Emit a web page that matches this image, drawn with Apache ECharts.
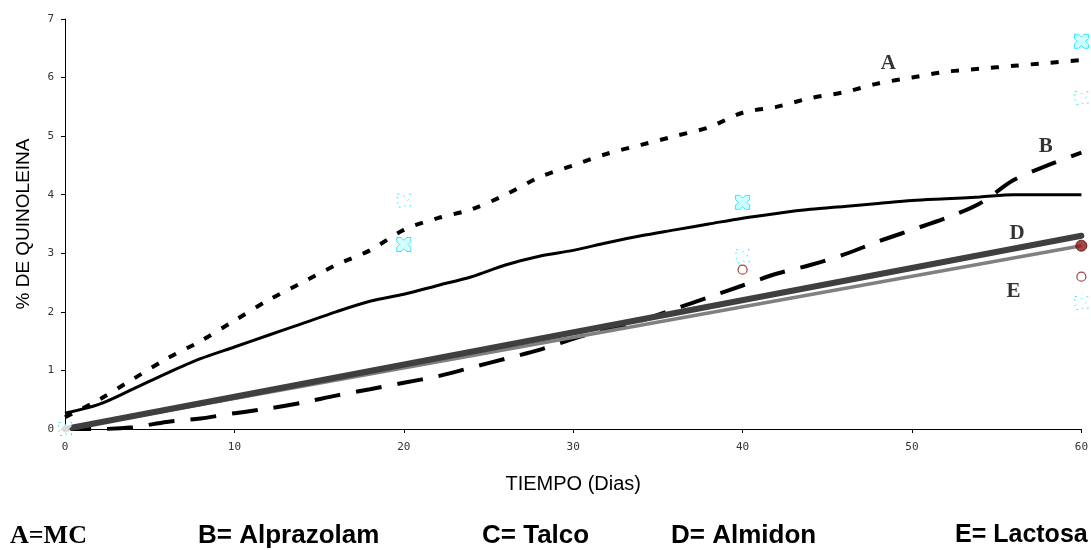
<!DOCTYPE html>
<html><head><meta charset="utf-8">
<script src="https://cdn.jsdelivr.net/npm/echarts@6/dist/echarts.min.js"></script>
<style>html,body{margin:0;padding:0;background:#fff}#c{width:1091px;height:550px}</style>
</head><body><div id="c"></div>
<script>
// ---- data ----
const days = [0,2,4,6,8,10,12,14,16,18,20,22,24,26,28,30,32,34,36,38,40,42,44,46,48,50,52,54,56,58,60];
const serieA = [0.2,0.5,0.85,1.2,1.5,1.85,2.2,2.5,2.8,3.05,3.4,3.6,3.75,4.0,4.3,4.5,4.7,4.85,5.0,5.15,5.4,5.5,5.65,5.75,5.9,6.0,6.1,6.15,6.2,6.25,6.3];
const serieB = [0,0,0.03,0.12,0.18,0.27,0.35,0.45,0.57,0.68,0.79,0.9,1.05,1.2,1.35,1.54,1.7,1.85,2.05,2.25,2.45,2.65,2.8,2.98,3.2,3.4,3.6,3.85,4.25,4.5,4.72];
const serieC = [0.27,0.42,0.68,0.95,1.2,1.4,1.6,1.8,2.0,2.18,2.3,2.45,2.6,2.8,2.95,3.05,3.18,3.3,3.4,3.5,3.6,3.68,3.75,3.8,3.85,3.9,3.93,3.96,4.0,4.0,4.0];
const daysDE = [0,60];
const serieD = [0,3.3];
const serieE = [0,3.13];
const cyanFilled = [[20,3.15],[40,3.87],[60,6.62]];
const cyanHollow = [[0,0],[20,3.9],[40,2.95],[60,5.65],[60,2.15]];
const redFilled = [[60,3.13]];
const redHollow = [[40,2.72],[60,2.6]];
const curveLabels = ['A','B','D','E'];
const curveLabelX = [48.6,57.9,56.2,56.0];
const curveLabelY = [6.24,4.83,3.33,2.35];
const xTitle = 'TIEMPO (Dias)';
const yTitle = '% DE QUINOLEINA';
const legendItems = ['A=MC','B= Alprazolam','C= Talco','D= Almidon','E= Lactosa'];
const xMin = 0, xMax = 60, xStep = 10;
const yMin = 0, yMax = 7, yStep = 1;

const zip = (xs, ys) => xs.map((x, i) => [x, ys[i]]);
const xSymbol = 'path://M0,0 L3,0 L5,2 L7,0 L10,0 L10,3 L8,5 L10,7 L10,10 L7,10 L5,8 L3,10 L0,10 L0,7 L2,5 L0,3 Z';

const chart = echarts.init(document.getElementById('c'), null, {renderer: 'canvas'});
const tickFont = {fontFamily: 'DejaVu Sans Mono', fontSize: 11, color: '#333'};
const option = {
  animation: false,
  backgroundColor: '#fff',
  grid: {left: 65, right: 9, top: 19, bottom: 121, containLabel: false},
  xAxis: {
    type: 'value', min: xMin, max: xMax, interval: xStep,
    name: xTitle, nameLocation: 'middle', nameGap: 45,
    nameTextStyle: {fontFamily: 'Liberation Sans', fontSize: 20, color: '#000'},
    axisLine: {lineStyle: {color: '#000', width: 1}},
    axisTick: {show: true, length: 4, lineStyle: {color: '#000'}},
    axisLabel: Object.assign({margin: 13}, tickFont),
    splitLine: {show: false}
  },
  yAxis: {
    type: 'value', min: yMin, max: yMax, interval: yStep,
    name: yTitle, nameLocation: 'middle', nameGap: 32, nameRotate: 90,
    nameTextStyle: {fontFamily: 'Liberation Sans', fontSize: 19, color: '#000'},
    axisLine: {show: true, lineStyle: {color: '#000', width: 1}},
    axisTick: {show: true, length: 4, lineStyle: {color: '#000'}},
    axisLabel: Object.assign({margin: 11}, tickFont),
    splitLine: {show: false}
  },
  series: [
    {name: 'B', type: 'line', data: zip(days, serieB), smooth: 0.3, showSymbol: false, z: 2,
      lineStyle: {color: '#000', width: 4, type: [26, 16]}},
    {name: 'E', type: 'line', data: zip(daysDE, serieE), showSymbol: false, z: 3,
      lineStyle: {color: '#808080', width: 3.5}},
    {name: 'D', type: 'line', data: zip(daysDE, serieD), showSymbol: false, z: 4,
      lineStyle: {color: '#3f3f3f', width: 6, cap: 'round'}},
    {name: 'A', type: 'line', data: zip(days, serieA), smooth: 0.3, showSymbol: false, z: 5,
      lineStyle: {color: '#000', width: 4, type: [8, 12]}},
    {name: 'C', type: 'line', data: zip(days, serieC), smooth: 0.3, showSymbol: false, z: 5,
      lineStyle: {color: '#000', width: 3}},
    {type: 'scatter', data: cyanHollow, symbol: xSymbol, symbolSize: 13, z: 6,
      itemStyle: {color: '#fff', borderColor: '#00e5ff', borderWidth: 1, borderType: [2, 5], opacity: 0.8}},
    {type: 'scatter', data: cyanFilled, symbol: xSymbol, symbolSize: 14, z: 7,
      itemStyle: {color: '#c8ffff', borderColor: '#00e5ff', borderWidth: 1}},
    {type: 'scatter', data: redHollow, symbol: 'circle', symbolSize: 9, z: 6,
      itemStyle: {color: '#fff', borderColor: '#8b1010', borderWidth: 1.2}},
    {type: 'scatter', data: redFilled, symbol: 'circle', symbolSize: 11, z: 7,
      itemStyle: {color: '#8b1a1a', borderColor: '#5a0000', borderWidth: 1}},
    {type: 'scatter', data: curveLabels.map((t, i) => ({value: [curveLabelX[i], curveLabelY[i]], name: t})),
      symbolSize: 0, z: 8, silent: true,
      label: {show: true, position: 'inside', formatter: p => p.name,
        fontFamily: 'Liberation Serif', fontWeight: 'bold', fontSize: 21, color: '#000'}}
  ],
  graphic: [
    {type: 'text', left: 10, top: 523, style: {text: legendItems[0], font: 'bold 26px "Liberation Serif"', fill: '#000'}},
    {type: 'text', left: 198, top: 523, style: {text: legendItems[1], font: 'bold 26px "Liberation Sans"', fill: '#000'}},
    {type: 'text', left: 482, top: 523, style: {text: legendItems[2], font: 'bold 26px "Liberation Sans"', fill: '#000'}},
    {type: 'text', left: 671, top: 523, style: {text: legendItems[3], font: 'bold 26px "Liberation Sans"', fill: '#000'}},
    {type: 'text', left: 955, top: 523, style: {text: legendItems[4], font: 'bold 25px "Liberation Sans"', fill: '#000'}}
  ]
};
chart.setOption(option);
</script></body></html>
